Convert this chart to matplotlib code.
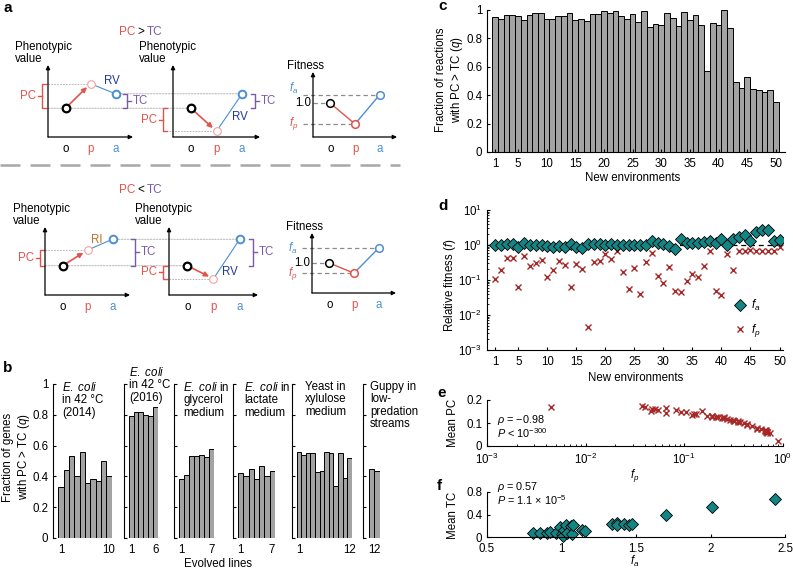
import numpy as np
import matplotlib
matplotlib.use('Agg')
import matplotlib.pyplot as plt
from matplotlib.lines import Line2D
from matplotlib.patches import ConnectionPatch
from matplotlib.ticker import LogLocator, NullFormatter

plt.rcParams['font.family'] = ['Liberation Sans', 'DejaVu Sans']
plt.rcParams['mathtext.fontset'] = 'custom'
plt.rcParams['mathtext.rm'] = 'Liberation Sans'
plt.rcParams['mathtext.it'] = 'Liberation Sans:italic'
plt.rcParams['font.size'] = 8.3
plt.rcParams['axes.linewidth'] = 0.8
plt.rcParams['xtick.direction'] = 'in'
plt.rcParams['ytick.direction'] = 'in'
plt.rcParams['xtick.major.size'] = 2.5
plt.rcParams['ytick.major.size'] = 2.5
plt.rcParams['xtick.minor.size'] = 1.5
plt.rcParams['ytick.minor.size'] = 1.5

# ---------------- data ----------------
# a: schematic values at o, p, a
stages = ['o', 'p', 'a']
gt_pheno_1 = [0.40, 0.74, 0.60]
gt_pheno_2 = [0.40, 0.08, 0.60]
gt_fit = [0.52, 0.20, 0.65]
lt_pheno_1 = [0.43, 0.66, 0.82]
lt_pheno_2 = [0.43, 0.24, 0.82]
lt_fit = [0.50, 0.33, 0.75]

# b: fraction of genes with PC > TC per evolved line
b_titles = [r"$\it{E.\ coli}$" + "\nin 42 °C\n(2014)",
            r"$\it{E.\ coli}$" + "\nin 42 °C\n(2016)",
            r"$\it{E.\ coli}$ in" + "\nglycerol\nmedium",
            r"$\it{E.\ coli}$ in" + "\nlactate\nmedium",
            "Yeast in\nxylulose\nmedium",
            "Guppy in\nlow-\npredation\nstreams"]
b_q = [[0.33, 0.44, 0.53, 0.40, 0.56, 0.36, 0.38, 0.37, 0.50, 0.40],
       [0.79, 0.82, 0.82, 0.80, 0.79, 0.85],
       [0.385, 0.41, 0.535, 0.53, 0.54, 0.525, 0.58],
       [0.425, 0.40, 0.45, 0.38, 0.465, 0.40, 0.435],
       [0.56, 0.54, 0.555, 0.555, 0.43, 0.435, 0.56, 0.555, 0.34, 0.555, 0.39, 0.52],
       [0.45, 0.435]]

# c: fraction of reactions with PC > TC in 50 new environments
env = np.arange(1, 51)
c_q = [0.953, 0.937, 0.965, 0.962, 0.958, 0.93, 0.967, 0.981, 0.981, 0.94,
       0.937, 0.955, 0.958, 0.976, 0.93, 0.934, 0.922, 0.97, 0.97, 0.993,
       0.976, 0.99, 0.958, 0.937, 0.972, 0.915, 0.993, 0.878, 0.90, 0.896,
       0.981, 0.944, 0.887, 0.984, 0.927, 0.965, 0.896, 0.569, 0.908, 0.894,
       0.998, 0.871, 0.496, 0.452, 0.525, 0.442, 0.44, 0.421, 0.435, 0.353]

# d: relative fitness
d_fa = [0.97, 1.0, 1.05, 1.05, 0.90, 1.15, 1.02, 1.02, 1.0, 0.92,
        0.90, 0.94, 0.86, 1.10, 0.86, 0.82, 1.05, 1.05, 1.05, 1.02,
        1.05, 1.0, 1.0, 0.98, 1.0, 1.0, 1.02, 1.33, 1.12, 1.05,
        0.92, 0.79, 1.48, 1.15, 1.15, 1.12, 1.19, 1.33, 1.12, 1.48,
        1.0, 1.48, 1.73, 1.97, 1.27, 2.30, 2.70, 2.70, 1.33, 1.39]
d_fp = [0.105, 0.19, 0.43, 0.43, 0.065, 0.49, 0.25, 0.31, 0.37, 0.125,
        0.19, 0.35, 0.27, 0.065, 0.29, 0.21, 0.0045, 0.32, 0.35, 0.55,
        0.40, 0.66, 0.17, 0.054, 0.22, 0.040, 0.32, 0.60, 0.13, 0.082,
        0.24, 0.050, 0.046, 0.092, 0.15, 0.12, 0.25, 0.69, 0.047, 0.037,
        0.55, 0.19, 0.69, 0.66, 0.73, 0.67, 0.67, 0.67, 0.69, 0.90]

# e: mean PC for each environment (same order as d_fp)
e_pc = [0.146, 0.132, 0.095, 0.093, 0.165, 0.088, 0.122, 0.113, 0.104, 0.137,
        0.128, 0.107, 0.118, 0.142, 0.115, 0.126, 0.168, 0.110, 0.105, 0.078,
        0.100, 0.066, 0.130, 0.158, 0.124, 0.171, 0.109, 0.072, 0.140, 0.155,
        0.120, 0.160, 0.153, 0.148, 0.152, 0.135, 0.125, 0.060, 0.163, 0.172,
        0.075, 0.130, 0.062, 0.068, 0.055, 0.065, 0.070, 0.060, 0.058, 0.020]

# f: mean TC vs f_a
f_fa = [0.81, 0.855, 0.90, 0.925, 0.965, 0.99, 1.0, 1.01, 1.02, 1.03,
        1.04, 1.065, 1.07, 1.075, 1.14, 1.16, 1.34, 1.37, 1.375, 1.42,
        1.45, 1.47, 1.70, 2.01, 2.43]
f_tc = [0.077, 0.08, 0.065, 0.09, 0.08, 0.17, 0.06, 0.01, 0.12, 0.21,
        0.07, 0.19, 0.06, 0.22, 0.13, 0.11, 0.24, 0.255, 0.21, 0.24,
        0.21, 0.24, 0.40, 0.53, 0.675]

# ---------------- style ----------------
RED = '#e0544c'
PINK = '#f0a3a0'
BLUE = '#4b8fd5'
PURPLE = '#7b5aa6'
DKBLUE = '#23399a'
BROWN = '#b8702a'
GUIDE = '#aaaaaa'
BAR = '#a3a3a3'
TEAL = '#138585'
XRED = '#a82828'

W, H = 793, 571
fig = plt.figure(figsize=(W / 100, H / 100), dpi=100)


def px_axes(x0, y0, x1, y1):
    return fig.add_axes([x0 / W, 1 - y1 / H, (x1 - x0) / W, (y1 - y0) / H])


def ftext(x, y, s, **kw):
    return fig.text(x / W, 1 - y / H, s, **kw)


# ---------------- panel a ----------------
def mini_axes(x0, y0, x1, y1, ylab, labx):
    ax = px_axes(x0, y0, x1, y1)
    ax.set_xlim(-0.7, 2.7)
    ax.set_ylim(0, 1)
    for s in ax.spines.values():
        s.set_visible(False)
    ax.set_yticks([])
    ax.set_xticks([0, 1, 2])
    ax.set_xticklabels(stages)
    for lab, c in zip(ax.get_xticklabels(), ['k', RED, BLUE]):
        lab.set_color(c)
    ax.tick_params(axis='x', length=0, pad=4)
    ax.patch.set_visible(False)
    for xy in [(0, 1), (1, 0)]:
        ax.annotate('', xy=xy, xytext=(0, 0), xycoords='axes fraction',
                    arrowprops=dict(arrowstyle='-|>', color='k', lw=0.9,
                                    mutation_scale=6, shrinkA=0, shrinkB=0))
    ax.text(labx, 1.0, ylab, ha='left', va='bottom', linespacing=1.0)
    return ax


def guide(ax, x0, x1, y):
    ax.plot([x0, x1], [y, y], color=GUIDE, lw=0.6, ls=(0, (2, 1.5)),
            zorder=1, clip_on=False)


def link(ax1, x1, ax2, x2, y):
    con = ConnectionPatch(xyA=(x1, y), coordsA=ax1.transData,
                          xyB=(x2, y), coordsB=ax2.transData,
                          color=GUIDE, lw=0.6, linestyle=(0, (2, 1.5)), zorder=0)
    fig.add_artist(con)


def bracket(ax, x, y0, y1, side, label, color):
    t = 0.16
    ax.plot([x + side * t, x, x, x + side * t], [y0, y0, y1, y1],
            color=color, lw=1, clip_on=False)
    ym = (y0 + y1) / 2
    ax.plot([x, x - side * t], [ym, ym], color=color, lw=1, clip_on=False)
    ax.text(x - side * t * 1.4, ym, label, color=color, va='center',
            ha='right' if side > 0 else 'left')


def draw_pheno(ax, v):
    ax.annotate('', xy=(1, v[1]), xytext=(0, v[0]),
                arrowprops=dict(arrowstyle='-|>', color=RED, lw=1.2,
                                mutation_scale=7, shrinkA=3.5, shrinkB=3.5))
    ax.plot([1, 2], v[1:], color=BLUE, lw=0.8, zorder=2)
    ax.plot(0, v[0], 'o', ms=5.5, mfc='white', mec='k', mew=1.6, zorder=4)
    ax.plot(1, v[1], 'o', ms=5.5, mfc='white', mec=PINK, mew=0.8, zorder=4)
    ax.plot(2, v[2], 'o', ms=5.5, mfc='white', mec=BLUE, mew=1.4, zorder=4)


def draw_fit(ax, f, fa_lift=0.0):
    dash = dict(color='#8c8c8c', lw=0.9, ls=(0, (3.5, 2.5)), zorder=1, clip_on=False)
    ax.plot([-1.12, 2], [f[2], f[2]], **dash)
    ax.plot([-0.7, 0], [f[0], f[0]], **dash)
    ax.plot([-1.12, 1], [f[1], f[1]], **dash)
    ax.plot([0, 1], f[:2], color=RED, lw=1, zorder=2)
    ax.plot([1, 2], f[1:], color=BLUE, lw=1, zorder=2)
    for x, y, c in zip([0, 1, 2], f, ['k', RED, BLUE]):
        ax.plot(x, y, 'o', ms=5.5, mfc='white', mec=c, mew=1.1, zorder=4)
    ax.text(-1.3, f[2] + fa_lift, '$f_a$', color=BLUE, ha='right', va='center')
    ax.text(-0.78, f[0], '1.0', ha='right', va='center')
    ax.text(-1.3, f[1], '$f_p$', color=RED, ha='right', va='center')


ftext(3, 8, 'a', fontsize=11, fontweight='bold', va='center')

for yt, sym in [(32, '>'), (190, '<')]:
    ftext(135, yt, 'PC', color=RED, ha='right', va='center', fontsize=8.5)
    ftext(141, yt, sym, ha='center', va='center', fontsize=8.5)
    ftext(147, yt, 'TC', color=PURPLE, ha='left', va='center', fontsize=8.5)

# PC > TC row
a1 = mini_axes(48, 65, 133, 137, 'Phenotypic\nvalue', -2.02)
a2 = mini_axes(173, 65, 260, 137, 'Phenotypic\nvalue', -2.02)
a3 = mini_axes(313, 72, 397, 137, 'Fitness', -1.74)
draw_pheno(a1, gt_pheno_1)
draw_pheno(a2, gt_pheno_2)
draw_fit(a3, gt_fit, fa_lift=0.1)
guide(a1, -0.7, 1, gt_pheno_1[1])
guide(a2, -1.1, 1, gt_pheno_2[1])
link(a1, -0.7, a2, 0, gt_pheno_1[0])
link(a1, 2, a2, 2, gt_pheno_1[2])
bracket(a1, -0.94, gt_pheno_1[0], gt_pheno_1[1], 1, 'PC', RED)
bracket(a1, 2.46, gt_pheno_1[0], gt_pheno_1[2], -1, 'TC', PURPLE)
bracket(a2, -1.1, gt_pheno_2[1], gt_pheno_2[0], 1, 'PC', RED)
bracket(a2, 2.5, gt_pheno_2[0], gt_pheno_2[2], -1, 'TC', PURPLE)
a1.text(1.86, 0.78, 'RV', color=DKBLUE, ha='center', va='center')
a2.text(1.9, 0.28, 'RV', color=DKBLUE, ha='center', va='center')

# separator
fig.add_artist(Line2D([0, 400 / W], [1 - 165 / H, 1 - 165 / H],
                      color='#a8a8a8', lw=1.8, ls=(0, (8, 4))))

# PC < TC row
a4 = mini_axes(45, 227, 130, 295, 'Phenotypic\nvalue', -2.0)
a5 = mini_axes(169, 227, 258, 295, 'Phenotypic\nvalue', -2.0)
a6 = mini_axes(312, 233, 396, 293, 'Fitness', -1.74)
draw_pheno(a4, lt_pheno_1)
draw_pheno(a5, lt_pheno_2)
draw_fit(a6, lt_fit)
guide(a4, -0.7, 1, lt_pheno_1[1])
guide(a5, -0.94, 1, lt_pheno_2[1])
link(a4, -0.7, a5, 0, lt_pheno_1[0])
link(a4, 2, a5, 2, lt_pheno_1[2])
bracket(a4, -0.9, lt_pheno_1[0], lt_pheno_1[1], 1, 'PC', RED)
bracket(a4, 2.9, lt_pheno_1[0], lt_pheno_1[2], -1, 'TC', PURPLE)
bracket(a5, -0.94, lt_pheno_2[1], lt_pheno_2[0], 1, 'PC', RED)
bracket(a5, 2.5, lt_pheno_2[0], lt_pheno_2[2], -1, 'TC', PURPLE)
a4.text(1.38, 0.81, 'RI', color=BROWN, ha='center', va='center')
a5.text(1.62, 0.34, 'RV', color=DKBLUE, ha='center', va='center')

# ---------------- panel b ----------------
ftext(3, 368, 'b', fontsize=11, fontweight='bold', va='center')
b_left = [53, 124, 174, 233, 292, 363]
b_right = [112, 158, 214, 275, 352, 380]
b_text_pos = [(62, 381), (129, 366), (183, 381), (244, 381), (305, 381), (370, 381)]
for i, q in enumerate(b_q):
    n = len(q)
    ax = px_axes(b_left[i], 384, b_right[i], 538)
    ax.bar(np.arange(1, n + 1), q, width=1, color=BAR, edgecolor='k', linewidth=0.7)
    ax.set_xlim(-0.5, n + 0.55)
    ax.set_ylim(0, 1)
    for s in ['top', 'right', 'bottom']:
        ax.spines[s].set_visible(False)
    ax.set_yticks(np.linspace(0, 1, 6))
    if i == 0:
        ax.set_yticklabels(['0', '0.2', '0.4', '0.6', '0.8', '1'])
    else:
        ax.tick_params(axis='y', labelleft=False)
    ax.set_xticks([1, n])
    ax.set_xticklabels(['1', str(n)])
    ax.tick_params(axis='x', length=0, pad=4)
    ax.patch.set_visible(False)
    tx, ty = b_text_pos[i]
    ftext(tx, ty, b_titles[i], ha='left', va='top', linespacing=1.05)

ftext(17, 457, 'Fraction of genes\nwith PC > TC ($q$)', rotation=90,
      ha='center', va='center', linespacing=1.1)
ftext(218, 564, 'Evolved lines', ha='center', va='center')

# ---------------- panel c ----------------
ftext(438, 6, 'c', fontsize=11, fontweight='bold', va='center')
axc = px_axes(487, 10, 785, 152)
axc.bar(env, c_q, width=1, color=BAR, edgecolor='k', linewidth=0.7)
axc.set_xlim(-0.4, 51.6)
axc.set_ylim(0, 1)
axc.set_xticks([1, 5, 10, 15, 20, 25, 30, 35, 40, 45, 50])
axc.set_yticks(np.linspace(0, 1, 6))
axc.set_yticklabels(['0', '0.2', '0.4', '0.6', '0.8', '1'])
axc.tick_params(axis='x', pad=4)
for s in ['top', 'right']:
    axc.spines[s].set_visible(False)
ftext(450, 80, 'Fraction of reactions\nwith PC > TC ($q$)', rotation=90,
      ha='center', va='center', linespacing=1.1)
ftext(633, 178, 'New environments', ha='center', va='center')

# ---------------- panel d ----------------
ftext(438, 206, 'd', fontsize=11, fontweight='bold', va='center')
axd = px_axes(487, 210, 783, 350)
axd.axhline(1, color='k', lw=0.9, ls=(0, (4, 3)), zorder=1)
axd.plot(env, d_fp, 'x', color=XRED, ms=5, mew=1, zorder=2, label='$f_p$')
axd.plot(env, d_fa, 'D', color=TEAL, mec='k', mew=0.6, ms=6, zorder=3, label='$f_a$')
axd.set_yscale('log')
axd.set_ylim(1e-3, 1e1)
axd.set_xlim(-0.4, 50.6)
axd.set_xticks([1, 5, 10, 15, 20, 25, 30, 35, 40, 45, 50])
axd.yaxis.set_major_locator(LogLocator(base=10, numticks=10))
axd.yaxis.set_minor_locator(LogLocator(base=10, subs=np.arange(2, 10), numticks=20))
axd.yaxis.set_minor_formatter(NullFormatter())
axd.tick_params(axis='x', pad=4)
for s in ['top', 'right']:
    axd.spines[s].set_visible(False)
hd, ld = axd.get_legend_handles_labels()
axd.legend(hd[::-1], ld[::-1], loc='lower right', frameon=False, handlelength=1,
           handletextpad=0.4, labelspacing=0.8, bbox_to_anchor=(0.96, 0.0),
           fontsize=8.5)
ftext(450, 285, 'Relative fitness ($f$)', rotation=90, ha='center', va='center')
ftext(636, 378, 'New environments', ha='center', va='center')

# ---------------- panel e ----------------
ftext(437, 393, 'e', fontsize=11, fontweight='bold', va='center')
axe = px_axes(487, 400, 783, 446)
axe.plot(d_fp, e_pc, 'x', color=XRED, ms=5, mew=1)
axe.set_xscale('log')
axe.set_xlim(1e-3, 1)
axe.set_ylim(0, 0.2)
axe.set_yticks([0, 0.1, 0.2])
axe.set_yticklabels(['0', '0.1', '0.2'])
axe.xaxis.set_minor_locator(LogLocator(base=10, subs=np.arange(2, 10), numticks=20))
axe.xaxis.set_minor_formatter(NullFormatter())
axe.tick_params(axis='x', pad=4)
for s in ['top', 'right']:
    axe.spines[s].set_visible(False)
ftext(497, 420, r'$\rho$ = −0.98', ha='left', va='center', fontsize=7.8)
ftext(497, 433, r'$P$ < 10$^{-300}$', ha='left', va='center', fontsize=7.8)
ftext(453, 423, 'Mean PC', rotation=90, ha='center', va='center')
ftext(635, 476, '$f_p$', ha='center', va='center')

# ---------------- panel f ----------------
ftext(437, 486, 'f', fontsize=11, fontweight='bold', va='center')
axf = px_axes(487, 492, 785, 537)
axf.plot(f_fa, f_tc, 'D', color=TEAL, mec='k', mew=0.6, ms=6.5, clip_on=False)
axf.set_xlim(0.5, 2.5)
axf.set_ylim(0, 0.8)
axf.set_xticks([0.5, 1, 1.5, 2, 2.5])
axf.set_xticklabels(['0.5', '1', '1.5', '2', '2.5'])
axf.set_yticks([0, 0.4, 0.8])
axf.set_yticklabels(['0', '0.4', '0.8'])
axf.tick_params(axis='x', pad=4)
for s in ['top', 'right']:
    axf.spines[s].set_visible(False)
ftext(497, 487, r'$\rho$ = 0.57', ha='left', va='center', fontsize=7.8)
ftext(497, 500, r'$P$ = 1.1 × 10$^{-5}$', ha='left', va='center', fontsize=7.8)
ftext(453, 515, 'Mean TC', rotation=90, ha='center', va='center')
ftext(635, 561, '$f_a$', ha='center', va='center')

fig.savefig('out.png', dpi=100)
